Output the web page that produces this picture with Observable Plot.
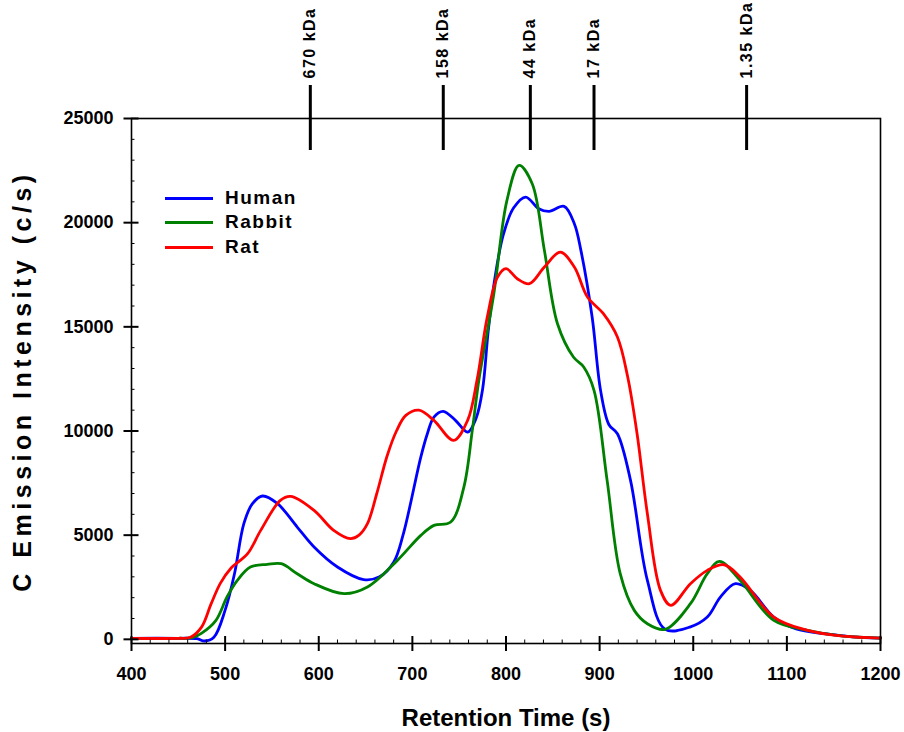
<!DOCTYPE html>
<html><head><meta charset="utf-8">
<script src="https://cdn.jsdelivr.net/npm/d3@7"></script>
<script src="https://cdn.jsdelivr.net/npm/@observablehq/plot@0.6"></script>
<style>
body{margin:0;background:#fff;}
#wrap{position:relative;width:904px;height:732px;font-family:"Liberation Sans",Arial,sans-serif;}
.leg{position:absolute;left:165px;height:22px;display:flex;align-items:center;font-weight:bold;font-size:19px;letter-spacing:1.5px;color:#000;}
.leg span.sw{display:inline-block;width:48px;height:3px;margin-right:12px;}
</style></head>
<body><div id="wrap"></div>
<script>
// ---- data ----
const seriesNames = ["Human", "Rabbit", "Rat"];
const seriesColors = ["#0000ff", "#008000", "#ff0000"];

const humanTime = [400,450,470,478,488,500,510,520,529,540,556,577,595,620,648,665,680,690,709,716,723,733,746,759,768,775,781,788,797,808,821,835,846,862,873,880,892,901,910,919,933,951,970,997,1015,1029,1045,1061,1086,1110,1140,1170,1200];
const humanValue = [50,50,30,-80,100,1400,3150,5550,6500,6880,6510,5390,4430,3470,2865,3000,3700,5000,8750,9870,10670,10944,10510,9950,10600,12000,14800,17300,19400,20700,21230,20670,20540,20780,19950,18670,15470,11950,10300,9870,7630,2830,480,600,1070,2030,2670,2350,1070,500,270,120,60];

const rabbitTime = [400,450,465,475,490,502,513,527,545,560,577,595,627,652,684,709,723,741,755,764,771,787,801,814,828,841,855,872,883,894,908,922,937,951,970,997,1015,1028,1050,1086,1122,1160,1200];
const rabbitValue = [50,50,80,300,900,2030,2830,3470,3600,3630,3150,2670,2190,2510,3790,4990,5470,5630,7310,10030,12430,16590,21070,22750,21870,18670,15150,13550,13070,11950,7630,3150,1390,750,480,1710,3150,3740,2830,910,430,150,60];

const ratTime = [400,450,463,475,485,495,506,524,538,559,570,595,616,634,643,652,662,673,683,693,707,723,744,759,769,780,791,800,812,825,841,858,873,887,904,919,930,940,951,965,976,997,1015,1033,1050,1086,1122,1160,1200];
const ratValue = [50,50,100,600,1700,2700,3400,4110,5230,6670,6860,6190,5230,4830,5000,5550,7000,8800,10000,10750,11000,10510,9550,10510,12430,15470,17390,17790,17310,17070,17870,18590,17870,16430,15630,14510,12590,9870,6030,2350,1630,2670,3310,3580,2990,1070,430,150,60];

const markerTimes = [591, 733, 826, 894, 1057];
const markerLabels = ["670 kDa", "158 kDa", "44 kDa", "17 kDa", "1.35 kDa"];

const xMajor = d3.range(400, 1201, 100);
const xMinor = d3.range(400, 1201, 20).filter(v => v % 100 !== 0);
const yMajor = d3.range(0, 25001, 5000);
const yMinor = d3.range(0, 25001, 1000).filter(v => v % 5000 !== 0);

// ---- build table ----
const rows = [];
[[humanTime, humanValue], [rabbitTime, rabbitValue], [ratTime, ratValue]].forEach(([t, v], i) => {
  t.forEach((x, j) => rows.push({series: seriesNames[i], t: x, v: v[j]}));
});
const markers = markerTimes.map((t, i) => ({t, label: markerLabels[i]}));

const font = {fontSize: 18, fontWeight: "bold"};
const blank = () => "";

const chart = Plot.plot({
  width: 904,
  height: 732,
  marginLeft: 131,
  marginRight: 24,
  marginTop: 118,
  marginBottom: 89,
  style: {fontFamily: "'Liberation Sans', Arial, sans-serif", background: "#fff", color: "#000"},
  x: {domain: [400, 1200]},
  y: {domain: [-200, 25000]},
  color: {domain: seriesNames, range: seriesColors},
  marks: [
    Plot.line(rows, {x: "t", y: "v", z: "series", stroke: "series", strokeWidth: 2.8, curve: "catmull-rom"}),
    Plot.frame({stroke: "#000", strokeWidth: 1.6}),
    // x axis ticks
    Plot.axisX({ticks: xMajor, tickSize: 15, dy: -7, strokeWidth: 2, tickFormat: blank, label: null}),
    Plot.axisX({ticks: xMinor, tickSize: 3.5, dy: -3.5, strokeWidth: 1, tickFormat: blank, label: null}),
    Plot.axisX({ticks: xMajor, tickSize: 0, tickPadding: 24, tickFormat: d3.format("d"), ...font, label: null}),
    // y axis ticks
    Plot.axisY({ticks: yMajor, tickSize: 15, dx: 7.5, strokeWidth: 2, tickFormat: blank, label: null}),
    Plot.axisY({ticks: yMinor, tickSize: 3.5, dx: 3.5, strokeWidth: 1, tickFormat: blank, label: null}),
    Plot.axisY({ticks: yMajor, tickSize: 0, tickPadding: 18, tickFormat: d3.format("d"), ...font, label: null}),
    // molecular-weight markers
    Plot.ruleX(markers, {x: "t", insetTop: -33, insetBottom: 493, strokeWidth: 3, stroke: "#000"}),
    Plot.text(markers, {x: "t", text: "label", frameAnchor: "top", dy: -40, rotate: -90, textAnchor: "start", lineAnchor: "middle", fontSize: 16, fontWeight: "bold"}),
    // axis titles
    Plot.text(["Retention Time (s)"], {text: d => d, frameAnchor: "bottom", dy: 75, textAnchor: "middle", lineAnchor: "middle", fontSize: 24, fontWeight: "bold"}),
    Plot.text(["C Emission Intensity (c/s)"], {text: d => d, frameAnchor: "left", dx: -109, rotate: -90, textAnchor: "middle", lineAnchor: "middle", fontSize: 25, fontWeight: "bold"})
  ]
});

const wrap = document.getElementById("wrap");
wrap.appendChild(chart);
// letter spacing for titles / markers (SigmaPlot-style spacing)
chart.querySelectorAll("text").forEach(t => {
  if (t.textContent === "C Emission Intensity (c/s)") t.setAttribute("letter-spacing", "4.5");
  if (/kDa$/.test(t.textContent)) t.setAttribute("letter-spacing", "1.5");
});
const legendY = [198, 222, 247];
seriesNames.forEach((name, i) => {
  const d = document.createElement("div");
  d.className = "leg";
  d.style.top = (legendY[i] - 11) + "px";
  d.innerHTML = `<span class="sw" style="background:${seriesColors[i]}"></span>${name}`;
  wrap.appendChild(d);
});
</script></body></html>
